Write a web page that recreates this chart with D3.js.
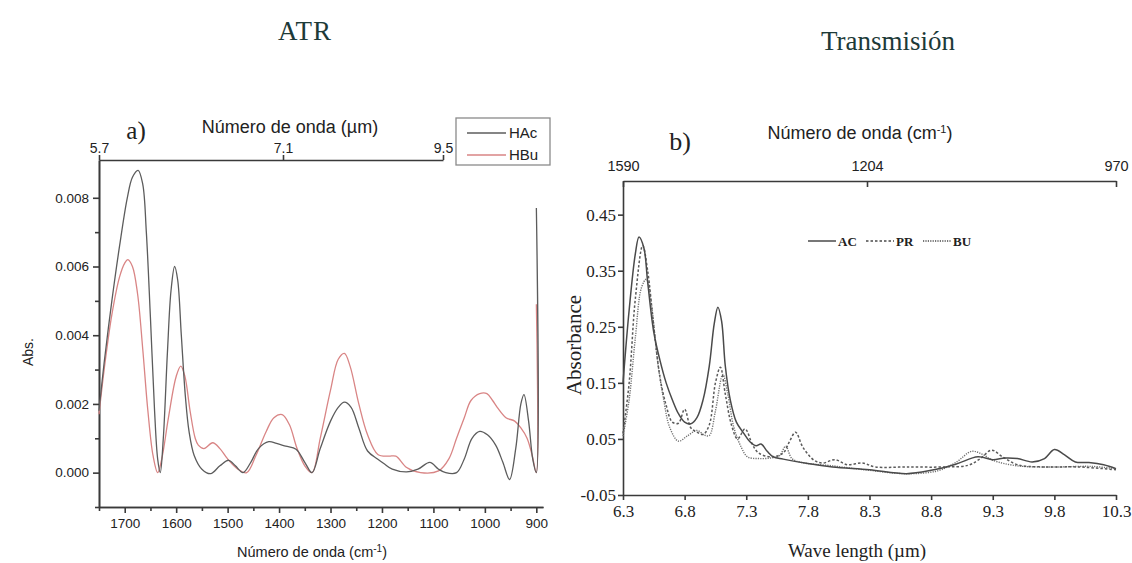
<!DOCTYPE html>
<html>
<head>
<meta charset="utf-8">
<script src="https://cdn.jsdelivr.net/npm/d3@7"></script>
<style>
  body { margin: 0; background: #fff; }
  svg text { fill: #222; }
</style>
</head>
<body>
<svg id="chart" width="1132" height="563"></svg>
<script>
// ---------- Panel a) ATR spectra ----------
const hacWave = [1750,1740,1725,1710,1695,1685,1674,1665,1658,1650,1642,1636,1631,1625,1617,1610,1603,1597,1590,1582,1575,1565,1550,1533,1515,1498,1485,1470,1455,1440,1420,1405,1387,1367,1350,1336,1320,1300,1285,1273,1260,1245,1228,1208,1195,1180,1152,1130,1107,1090,1076,1055,1040,1025,1010,995,979,965,952,940,930,924,915,907,900,899.9];
const hacAbs  = [0.0018,0.0032,0.0050,0.0066,0.0080,0.0086,0.0088,0.0084,0.0070,0.0045,0.0018,0.0004,0.0000,0.0010,0.0035,0.0053,0.0060,0.0056,0.0040,0.0022,0.0012,0.0005,0.0001,-0.00003,0.0002,0.00036,0.0002,0.0000,0.0003,0.0007,0.0009,0.00085,0.00077,0.00068,0.0003,0.0000,0.0007,0.0015,0.0019,0.00205,0.0019,0.0013,0.00063,0.00039,0.00025,0.0001,0.00002,0.0001,0.0003,0.0001,0.0000,0.0000,0.0004,0.0010,0.0012,0.0011,0.0008,0.0003,-0.0002,0.0007,0.0020,0.00227,0.0015,0.0004,0.0000,0.0077];

const hbuWave = [1750,1740,1725,1710,1700,1694,1685,1675,1665,1655,1645,1636,1628,1615,1600,1591,1583,1573,1563,1557,1546,1529,1515,1500,1480,1463,1445,1425,1410,1394,1380,1365,1350,1336,1320,1300,1285,1273,1262,1245,1228,1208,1187,1173,1152,1125,1090,1070,1055,1040,1027,1010,996,985,976,959,942,930,918,908,900,899.9];
const hbuAbs  = [0.0017,0.0030,0.0046,0.0057,0.0061,0.0062,0.0060,0.0052,0.0036,0.0018,0.0005,0.0000,0.0004,0.0016,0.0028,0.0031,0.0028,0.0018,0.0010,0.0008,0.0007,0.00087,0.0007,0.0004,0.0001,0.0000,0.0005,0.0012,0.0016,0.00169,0.0014,0.0007,0.0002,0.0000,0.0010,0.0024,0.0033,0.00347,0.0031,0.0020,0.0011,0.00053,0.00048,0.00048,0.00015,0.0000,0.00005,0.0004,0.0010,0.0016,0.0021,0.0023,0.0023,0.0021,0.0019,0.0016,0.0015,0.0013,0.0010,0.0005,0.0000,0.0049];

const atrMajorX = [1700,1600,1500,1400,1300,1200,1100,1000,900];
const atrMinorX = [1750,1650,1550,1450,1350,1250,1150,1050,950];
const atrMajorY = [0.000,0.002,0.004,0.006,0.008];
const atrMinorY = [-0.001,0.001,0.003,0.005,0.007];
const atrTopTicks = [5.7,7.1,9.5];

// ---------- Panel b) transmission spectra ----------
const acWl  = [6.30,6.35,6.40,6.43,6.47,6.50,6.55,6.60,6.65,6.70,6.75,6.80,6.85,6.90,6.95,7.00,7.04,7.07,7.10,7.13,7.17,7.22,7.28,7.33,7.38,7.42,7.47,7.52,7.60,7.80,8.00,8.30,8.60,8.80,9.00,9.18,9.30,9.40,9.50,9.62,9.72,9.80,9.88,9.97,10.08,10.20,10.30];
const acAbs = [0.150,0.280,0.380,0.410,0.390,0.330,0.240,0.190,0.150,0.120,0.095,0.080,0.077,0.088,0.120,0.180,0.255,0.285,0.260,0.180,0.120,0.080,0.060,0.045,0.038,0.041,0.028,0.018,0.014,0.006,0.000,-0.005,-0.012,-0.006,0.005,0.018,0.013,0.016,0.015,0.009,0.015,0.031,0.022,0.009,0.008,0.004,-0.003];

const prWl  = [6.30,6.35,6.40,6.46,6.50,6.55,6.60,6.65,6.70,6.75,6.80,6.85,6.90,6.95,7.00,7.05,7.09,7.13,7.18,7.23,7.29,7.35,7.40,7.50,7.60,7.65,7.70,7.76,7.85,7.92,8.02,8.12,8.24,8.35,8.60,8.90,9.10,9.20,9.29,9.38,9.50,9.70,10.00,10.30];
const prAbs = [0.060,0.150,0.300,0.395,0.350,0.250,0.160,0.110,0.080,0.078,0.103,0.070,0.062,0.058,0.075,0.150,0.178,0.130,0.075,0.050,0.068,0.040,0.025,0.018,0.025,0.045,0.062,0.035,0.012,0.007,0.013,0.004,0.007,0.000,0.000,0.000,0.003,0.015,0.030,0.018,0.004,0.000,0.000,-0.005];

const buWl  = [6.30,6.35,6.40,6.45,6.49,6.53,6.58,6.63,6.68,6.75,6.82,6.90,6.96,7.00,7.05,7.11,7.15,7.20,7.26,7.31,7.40,7.50,7.57,7.62,7.67,7.75,8.00,8.30,8.60,8.85,9.00,9.13,9.22,9.30,9.50,9.80,10.10,10.30];
const buAbs = [0.055,0.120,0.230,0.320,0.335,0.290,0.190,0.120,0.070,0.046,0.055,0.065,0.057,0.056,0.100,0.165,0.130,0.070,0.035,0.018,0.015,0.016,0.020,0.037,0.015,0.008,0.002,-0.006,-0.012,-0.007,0.008,0.028,0.022,0.012,0.002,0.000,0.001,-0.003];

const transXTicks = [6.3,6.8,7.3,7.8,8.3,8.8,9.3,9.8,10.3];
const transYTicks = [-0.05,0.05,0.15,0.25,0.35,0.45];
const transTopTicks = [1590,1204,970];

const svg = d3.select("#chart");
const axisColor = "#3a3a3a";

function styleAxis(g, font, size) {
  g.selectAll("path, line").attr("stroke", axisColor).attr("stroke-width", 1.6);
  g.selectAll("text").attr("font-family", font).attr("font-size", size).attr("fill", "#222");
}

// ---------- Titles ----------
const titleFont = "Liberation Serif, DejaVu Serif, serif";
svg.append("text").attr("x", 305).attr("y", 40).attr("text-anchor", "middle")
  .attr("font-family", titleFont).attr("font-size", 27).attr("letter-spacing", 1)
  .style("fill", "#1d3a38").text("ATR");
svg.append("text").attr("x", 888).attr("y", 50).attr("text-anchor", "middle")
  .attr("font-family", titleFont).attr("font-size", 27)
  .style("fill", "#1d3a38").text("Transmisión");

// ---------- Panel a ----------
const xA = d3.scaleLinear().domain([1750, 887]).range([99, 543]);
const yA = d3.scaleLinear().domain([-0.001, 0.0091]).range([507, 160]);
const xATop = d3.scaleLinear().domain([5.7, 7.1, 9.5]).range([99, 283, 443]);
const sansA = "Liberation Sans, Arial, sans-serif";

svg.append("g").attr("transform", "translate(0,507)")
  .call(d3.axisBottom(xA).tickValues(atrMinorX).tickFormat("").tickSize(4).tickSizeOuter(0))
  .call(g => styleAxis(g, sansA, 13));
svg.append("g").attr("transform", "translate(0,507)")
  .call(d3.axisBottom(xA).tickValues(atrMajorX).tickFormat(d3.format("d")).tickSize(6).tickSizeOuter(0).tickPadding(5))
  .call(g => styleAxis(g, sansA, 13.5));
svg.append("g").attr("transform", "translate(99,0)")
  .call(d3.axisLeft(yA).tickValues(atrMinorY).tickFormat("").tickSize(4).tickSizeOuter(0))
  .call(g => styleAxis(g, sansA, 13));
svg.append("g").attr("transform", "translate(99,0)")
  .call(d3.axisLeft(yA).tickValues(atrMajorY).tickFormat(d3.format(".3f")).tickSize(6).tickSizeOuter(0).tickPadding(4))
  .call(g => styleAxis(g, sansA, 13.5));
svg.append("g").attr("transform", "translate(0,160)")
  .call(d3.axisTop(xATop).tickValues(atrTopTicks).tickFormat(d3.format(".1f")).tickSize(5).tickSizeOuter(0).tickPadding(2))
  .call(g => styleAxis(g, sansA, 14));

const lineA = d3.line().x(d => xA(d[0])).y(d => yA(d[1])).curve(d3.curveCatmullRom.alpha(0.5));
svg.append("path").datum(d3.zip(hbuWave, hbuAbs)).attr("d", lineA)
  .attr("fill", "none").attr("stroke", "#d98585").attr("stroke-width", 1.3);
svg.append("path").datum(d3.zip(hacWave, hacAbs)).attr("d", lineA)
  .attr("fill", "none").attr("stroke", "#5c5c5c").attr("stroke-width", 1.3);

svg.append("text").attr("x", 136).attr("y", 139).attr("text-anchor", "middle")
  .attr("font-family", "Liberation Serif, serif").attr("font-size", 25).text("a)");
svg.append("text").attr("x", 290).attr("y", 133).attr("text-anchor", "middle")
  .attr("font-family", sansA).attr("font-size", 18).text("Número de onda (µm)");
svg.append("text").attr("x", 312).attr("y", 557).attr("text-anchor", "middle")
  .attr("font-family", sansA).attr("font-size", 14.5)
  .html('Número de onda (cm<tspan dy="-5" font-size="10">-1</tspan><tspan dy="5">)</tspan>');
svg.append("text").attr("transform", "translate(33,352) rotate(-90)").attr("text-anchor", "middle")
  .attr("font-family", sansA).attr("font-size", 14).text("Abs.");

// legend a
const legA = svg.append("g");
legA.append("rect").attr("x", 456).attr("y", 118).attr("width", 94).attr("height", 47)
  .attr("fill", "#fff").attr("stroke", "#8a8a8a").attr("stroke-width", 1.3);
[["HAc", "#5c5c5c", 133], ["HBu", "#d98585", 155]].forEach(([name, col, y]) => {
  legA.append("line").attr("x1", 467).attr("x2", 506).attr("y1", y).attr("y2", y)
    .attr("stroke", col).attr("stroke-width", 1.3);
  legA.append("text").attr("x", 509).attr("y", y + 5).attr("font-family", sansA)
    .attr("font-size", 15).text(name);
});

// ---------- Panel b ----------
const xB = d3.scaleLinear().domain([6.3, 10.3]).range([623, 1116]);
const yB = d3.scaleLinear().domain([-0.05, 0.51]).range([495, 181]);
const xBTop = d3.scaleLinear().domain([1590, 1204, 970]).range([623, 867, 1116]);
const serif = "Liberation Serif, Times New Roman, serif";

svg.append("g").attr("transform", "translate(0,495)")
  .call(d3.axisBottom(xB).tickValues(transXTicks).tickFormat(d3.format(".1f")).tickSize(5).tickSizeOuter(0).tickPadding(5))
  .call(g => styleAxis(g, serif, 17));
svg.append("g").attr("transform", "translate(623,0)")
  .call(d3.axisLeft(yB).tickValues(transYTicks).tickFormat(d => d3.format(".2f")(d).replace("−", "-")).tickSize(5).tickSizeOuter(0).tickPadding(2))
  .call(g => styleAxis(g, serif, 17));
svg.append("g").attr("transform", "translate(0,181)")
  .call(d3.axisTop(xBTop).tickValues(transTopTicks).tickFormat(d3.format("d")).tickSize(-6).tickSizeOuter(0).tickPadding(10))
  .call(g => styleAxis(g, sansA, 14.5));

const lineB = d3.line().x(d => xB(d[0])).y(d => yB(d[1])).curve(d3.curveCatmullRom.alpha(0.5));
const seriesB = [
  { name: "BU", wl: buWl, abs: buAbs, dash: "1.2,1.2", col: "#707070", w: 1.4 },
  { name: "PR", wl: prWl, abs: prAbs, dash: "2.5,2", col: "#5a5a5a", w: 1.5 },
  { name: "AC", wl: acWl, abs: acAbs, dash: null, col: "#4a4a4a", w: 1.5 }
];
seriesB.forEach(s => {
  svg.append("path").datum(d3.zip(s.wl, s.abs)).attr("d", lineB)
    .attr("fill", "none").attr("stroke", s.col).attr("stroke-width", s.w)
    .attr("stroke-dasharray", s.dash);
});

svg.append("text").attr("x", 680).attr("y", 150).attr("text-anchor", "middle")
  .attr("font-family", serif).attr("font-size", 26).text("b)");
svg.append("text").attr("x", 860).attr("y", 139).attr("text-anchor", "middle")
  .attr("font-family", sansA).attr("font-size", 18)
  .html('Número de onda (cm<tspan dy="-6" font-size="11">-1</tspan><tspan dy="6">)</tspan>');
svg.append("text").attr("x", 857).attr("y", 557).attr("text-anchor", "middle")
  .attr("font-family", serif).attr("font-size", 19).text("Wave length (µm)");
svg.append("text").attr("transform", "translate(581,345) rotate(-90)").attr("text-anchor", "middle")
  .attr("font-family", serif).attr("font-size", 21).text("Absorbance");

// legend b
const legB = [
  { name: "AC", dash: null, x: 808 },
  { name: "PR", dash: "2.5,2", x: 866 },
  { name: "BU", dash: "1.2,1.2", x: 923 }
];
legB.forEach(l => {
  svg.append("line").attr("x1", l.x).attr("x2", l.x + 28).attr("y1", 241).attr("y2", 241)
    .attr("stroke", "#4a4a4a").attr("stroke-width", 1.5).attr("stroke-dasharray", l.dash);
  svg.append("text").attr("x", l.x + 30).attr("y", 246).attr("font-family", serif)
    .attr("font-weight", "bold").attr("font-size", 13).text(l.name);
});
</script>
</body>
</html>
